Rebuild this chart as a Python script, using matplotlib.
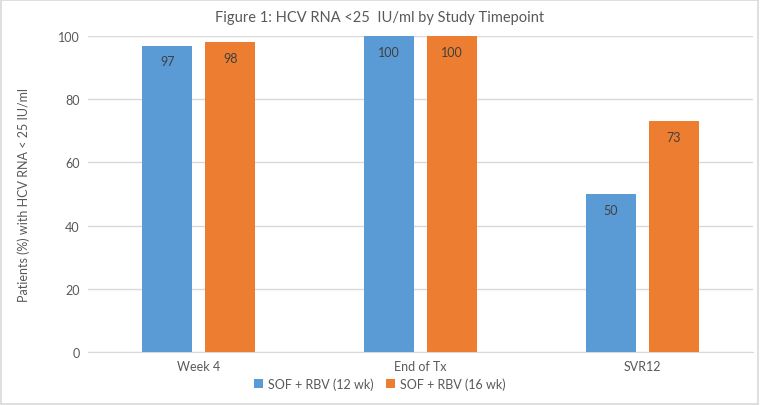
import matplotlib.pyplot as plt
import numpy as np

plt.rcParams["font.family"] = ["Lato", "DejaVu Sans"]

categories = ["Week 4", "End of Tx", "SVR12"]
series_names = ["SOF + RBV (12 wk)", "SOF + RBV (16 wk)"]
sof_12wk = [97, 100, 50]
sof_16wk = [98, 100, 73]
yticks = [0, 20, 40, 60, 80, 100]

BLUE = "#5B9BD5"
ORANGE = "#ED7D31"
TEXT = "#595959"

fig = plt.figure(figsize=(7.6, 4.06), dpi=100)
fig.patches.append(plt.Rectangle((0.001, 0.002), 0.997, 0.995, transform=fig.transFigure,
                                 fill=False, edgecolor="#D9D9D9", linewidth=1.2))
ax = fig.add_axes([0.1158, 0.1305, 0.875, 0.778])

x = np.arange(len(categories))
width = 0.225
offset = 0.142
b1 = ax.bar(x - offset, sof_12wk, width, color=BLUE, label=series_names[0], zorder=3)
b2 = ax.bar(x + offset, sof_16wk, width, color=ORANGE, label=series_names[1], zorder=3)

# etiquetas de valor dentro de la barra, arriba
for bars in (b1, b2):
    for rect in bars:
        h = rect.get_height()
        ax.annotate(f"{h:g}", (rect.get_x() + rect.get_width() / 2, h),
                    xytext=(0, -7), textcoords="offset points",
                    ha="center", va="top", fontsize=9, color="#404040", zorder=4)

ax.set_xlim(-0.5, 2.5)
ax.set_ylim(0, 100)
ax.set_yticks(yticks)
ax.set_xticks(x)
ax.set_xticklabels(categories)
ax.yaxis.grid(True, color="#D9D9D9", linewidth=1, zorder=0)
ax.tick_params(axis="both", length=0, labelsize=9, colors=TEXT, pad=6)
for side in ("top", "right", "left"):
    ax.spines[side].set_visible(False)
ax.spines["bottom"].set_color("#D9D9D9")

ax.set_ylabel("Patients (%) with HCV RNA < 25 IU/ml", fontsize=9, color=TEXT, labelpad=20)
fig.text(0.5, 0.955, "Figure 1: HCV RNA <25  IU/ml by Study Timepoint",
         ha="center", va="center", fontsize=10.5, color=TEXT)

fig.legend(loc="center", bbox_to_anchor=(0.5, 0.053), ncol=2, frameon=False,
           fontsize=9, labelcolor=TEXT, handlelength=0.7, handleheight=0.7,
           handletextpad=0.4, columnspacing=1.0)

fig.savefig("out.png", dpi=100)
